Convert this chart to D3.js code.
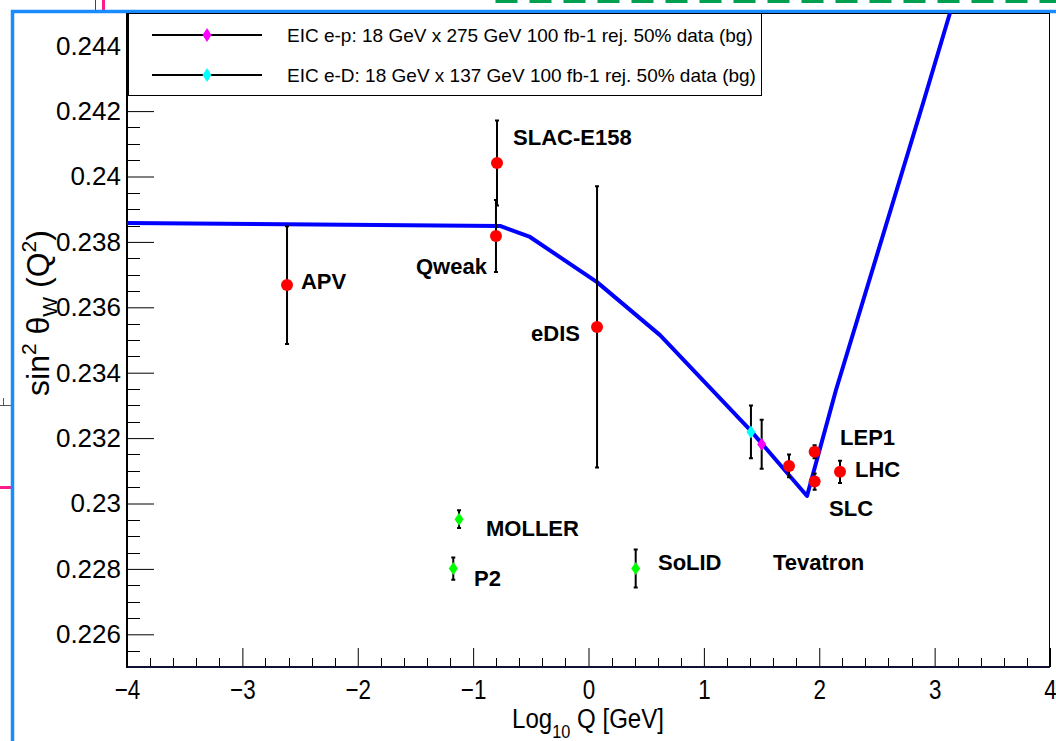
<!DOCTYPE html>
<html>
<head>
<meta charset="utf-8">
<script src="https://cdn.jsdelivr.net/npm/d3@7"></script>
<style>
  html, body { margin: 0; padding: 0; background: #fff; }
  svg { display: block; font-family: "Liberation Sans", Arial, Helvetica, sans-serif; }
</style>
</head>
<body>
<svg id="chart" width="1056" height="741"></svg>
<script>
// Running weak mixing angle: measurements, projections and EIC pseudo-data

// current measurements (red)
const measNames = ["APV", "SLAC-E158", "Qweak", "eDIS", "Tevatron", "LEP1", "SLC", "LHC"];
const measLogQ  = [-2.613, -0.793, -0.802, 0.074, 1.738, 1.960, 1.960, 2.180];
const measSin2  = [0.23668, 0.24041, 0.23818, 0.23540, 0.23115, 0.23158, 0.23067, 0.23097];
const measErr   = [0.0018, 0.0013, 0.0011, 0.0043, 0.00035, 0.00020, 0.00025, 0.00034];

// future low-energy projections (green)
const projNames = ["MOLLER", "P2", "SoLID"];
const projLogQ  = [-1.122, -1.172, 0.409];
const projSin2  = [0.22952, 0.22801, 0.22801];
const projErr   = [0.00027, 0.00034, 0.00058];

// EIC pseudo-data
const eicNames = ["EIC e-p: 18 GeV x 275 GeV 100 fb-1 rej. 50% data (bg)",
                  "EIC e-D: 18 GeV x 137 GeV 100 fb-1 rej. 50% data (bg)"];
const eicColors = ["#ff00ff", "#00ffff"];
const eicLogQ  = [1.501, 1.408];
const eicSin2  = [0.23181, 0.23219];
const eicErr   = [0.00075, 0.00081];

// theory curve
const curveLogQ = [-4, -0.767, -0.507, 0.074, 0.620, 1.400, 1.894, 2.145, 2.908, 3.133];
const curveSin2 = [0.23858, 0.23849, 0.23815, 0.23677, 0.23515, 0.23225, 0.23023, 0.23347, 0.24234, 0.24500];

// annotation text and anchors (data coordinates, left edge / baseline)
const labelText = ["APV", "SLAC-E158", "Qweak", "eDIS", "LEP1", "LHC", "SLC", "Tevatron", "MOLLER", "P2", "SoLID"];
const labelLogQ = [-2.492, -0.654, -1.495, -0.498, 2.180, 2.310, 2.085, 1.599, -0.888, -0.992, 0.602];
const labelSin2 = [0.23656, 0.24096, 0.23702, 0.23497, 0.23179, 0.23081, 0.22962, 0.22797, 0.22901, 0.22748, 0.22797];

// axes
const xTicks = [-4, -3, -2, -1, 0, 1, 2, 3, 4];
const yTicks = [0.226, 0.228, 0.23, 0.232, 0.234, 0.236, 0.238, 0.24, 0.242, 0.244];
const xDomain = [-4, 4];
const yDomain = [0.225, 0.245];

const svg = d3.select("#chart");
const W = 1056, H = 741;
const frame = { left: 127, right: 1050, top: 13, bottom: 667 };

const x = d3.scaleLinear().domain(xDomain).range([frame.left, frame.right]);
const y = d3.scaleLinear().domain(yDomain).range([frame.bottom, frame.top]);

// window decorations around the canvas
const deco = svg.append("g");
deco.append("path").attr("d", `M497,0V1.5H${W}`)
  .attr("fill", "none").attr("stroke", "#00a050").attr("stroke-width", 3)
  .attr("stroke-dasharray", "22,12");
deco.append("line").attr("x1", 95.5).attr("x2", 95.5).attr("y1", 0).attr("y2", 12)
  .attr("stroke", "#444").attr("stroke-width", 1);
deco.append("line").attr("x1", 103.5).attr("x2", 103.5).attr("y1", 0).attr("y2", 11)
  .attr("stroke", "#ff1a8c").attr("stroke-width", 3);
deco.append("path").attr("d", "M0,405.5H11M3.5,398V405")
  .attr("fill", "none").attr("stroke", "#555").attr("stroke-width", 1);
deco.append("line").attr("x1", 0).attr("x2", 11).attr("y1", 487.5).attr("y2", 487.5)
  .attr("stroke", "#ff1a8c").attr("stroke-width", 3);
deco.append("path").attr("d", `M12.5,${H}V11.5H${W}`)
  .attr("fill", "none").attr("stroke", "#1a8cff").attr("stroke-width", 3.5);

// clip region for the data
svg.append("clipPath").attr("id", "plotClip")
  .append("rect").attr("x", frame.left).attr("y", frame.top)
  .attr("width", frame.right - frame.left).attr("height", frame.bottom - frame.top);

// y axis
const yAxis = d3.axisLeft(y).tickValues(yTicks).tickSize(-27).tickPadding(0)
  .tickFormat(d => d3.format("")(+d.toFixed(3)));
const gy = svg.append("g").attr("transform", `translate(${frame.left},0)`).call(yAxis);
gy.select(".domain").remove();
gy.selectAll(".tick line").attr("stroke", "#000");
gy.selectAll(".tick text").attr("x", -6).attr("font-size", 26).attr("fill", "#000")
  .attr("font-family", "Liberation Sans, Arial, sans-serif");
const yMinor = d3.range(0.2255, 0.2450, 0.0005).filter(v => Math.abs(v / 0.002 - Math.round(v / 0.002)) > 0.01);
svg.append("g").selectAll("line").data(yMinor).join("line")
  .attr("x1", frame.left).attr("x2", frame.left + 13)
  .attr("y1", d => Math.round(y(d)) + 0.5).attr("y2", d => Math.round(y(d)) + 0.5)
  .attr("stroke", "#000").attr("stroke-width", 1);

// x axis
const xAxis = d3.axisBottom(x).tickValues(xTicks).tickSize(-19).tickFormat(d => d < 0 ? "\u2212" + Math.abs(d) : d);
const gx = svg.append("g").attr("transform", `translate(0,${frame.bottom})`).call(xAxis);
gx.select(".domain").remove();
gx.selectAll(".tick line").attr("stroke", "#000");
gx.selectAll(".tick text").attr("y", 0).attr("dy", 0)
  .attr("font-size", 28).attr("fill", "#000")
  .attr("transform", "translate(0,32) scale(0.8,1)");
const xMinor = d3.range(-3.8, 4, 0.2).filter(v => Math.abs(v - Math.round(v)) > 0.01);
svg.append("g").selectAll("line").data(xMinor).join("line")
  .attr("x1", d => Math.round(x(d)) + 0.5).attr("x2", d => Math.round(x(d)) + 0.5)
  .attr("y1", frame.bottom).attr("y2", frame.bottom - 9)
  .attr("stroke", "#000").attr("stroke-width", 1);

// frame
svg.append("rect").attr("x", frame.left + 0.5).attr("y", frame.top + 0.5)
  .attr("width", frame.right - frame.left - 1).attr("height", frame.bottom - frame.top - 1)
  .attr("fill", "none").attr("stroke", "#000").attr("stroke-width", 1);
svg.append("line").attr("x1", frame.left).attr("x2", frame.right)
  .attr("y1", frame.bottom).attr("y2", frame.bottom)
  .attr("stroke", "#111133").attr("stroke-width", 2);
svg.append("line").attr("x1", frame.left).attr("x2", frame.left)
  .attr("y1", frame.top).attr("y2", frame.bottom + 1)
  .attr("stroke", "#000").attr("stroke-width", 2);

// axis titles
const xt = svg.append("text").attr("transform", `translate(588,728) scale(0.86,1)`)
  .attr("text-anchor", "middle").attr("font-size", 28).attr("fill", "#000");
xt.append("tspan").text("Log");
xt.append("tspan").attr("font-size", 19).attr("dy", 10).text("10");
xt.append("tspan").attr("dy", -10).text(" Q [GeV]");

const yt = svg.append("text").attr("transform", `translate(49,313) rotate(-90)`)
  .attr("text-anchor", "middle").attr("font-size", 32).attr("fill", "#000");
yt.append("tspan").text("sin");
yt.append("tspan").attr("font-size", 21).attr("dy", -13).text("2");
yt.append("tspan").attr("dy", 13).text(" \u03b8");
yt.append("tspan").attr("font-size", 21).attr("dy", 8).text("W");
yt.append("tspan").attr("dy", -8).text(" (Q");
yt.append("tspan").attr("font-size", 21).attr("dy", -13).text("2");
yt.append("tspan").attr("dy", 13).text(")");

const plot = svg.append("g").attr("clip-path", "url(#plotClip)");

// theory curve
const curve = curveLogQ.map((q, i) => [q, curveSin2[i]]);
plot.append("path").datum(curve)
  .attr("d", d3.line().x(d => x(d[0])).y(d => y(d[1])))
  .attr("fill", "none").attr("stroke", "#0000ff").attr("stroke-width", 4)
  .attr("stroke-linejoin", "round");

function errorBars(g, qs, ss, es) {
  const data = qs.map((q, i) => ({ q, s: ss[i], e: es[i] }));
  g.append("g").selectAll("path").data(data).join("path")
    .attr("d", d => {
      const px = x(d.q), y0 = y(d.s - d.e), y1 = y(d.s + d.e);
      return `M${px},${y0}V${y1}M${px - 2},${y0}H${px + 2}M${px - 2},${y1}H${px + 2}`;
    })
    .attr("fill", "none").attr("stroke", "#000").attr("stroke-width", 2);
}

const diamond = (w, h) => `M0,${-h / 2}L${w / 2},0L0,${h / 2}L${-w / 2},0Z`;

// measurements
errorBars(plot, measLogQ, measSin2, measErr);
plot.append("g").selectAll("circle").data(measLogQ).join("circle")
  .attr("cx", d => x(d)).attr("cy", (d, i) => y(measSin2[i])).attr("r", 6)
  .attr("fill", "#ff0000");

// projections
errorBars(plot, projLogQ, projSin2, projErr);
plot.append("g").selectAll("path").data(projLogQ).join("path")
  .attr("transform", (d, i) => `translate(${x(d)},${y(projSin2[i])})`)
  .attr("d", diamond(9, 13)).attr("fill", "#00ff00");

// EIC
errorBars(plot, eicLogQ, eicSin2, eicErr);
plot.append("g").selectAll("path").data(eicLogQ).join("path")
  .attr("transform", (d, i) => `translate(${x(d)},${y(eicSin2[i])})`)
  .attr("d", diamond(9, 13)).attr("fill", (d, i) => eicColors[i]);

// annotations
svg.append("g").selectAll("text").data(labelText).join("text")
  .attr("x", (d, i) => x(labelLogQ[i])).attr("y", (d, i) => y(labelSin2[i]))
  .attr("font-size", 22).attr("font-weight", "bold").attr("fill", "#000")
  .text(d => d);

// legend
const lg = svg.append("g");
lg.append("rect").attr("x", 128.5).attr("y", 13.5).attr("width", 633).attr("height", 82)
  .attr("fill", "#fff").attr("stroke", "#000").attr("stroke-width", 1);
const rows = lg.selectAll("g.row").data(eicNames).join("g")
  .attr("transform", (d, i) => `translate(0,${35 + i * 40})`);
rows.append("line").attr("x1", 152).attr("x2", 262).attr("y1", 0).attr("y2", 0)
  .attr("stroke", "#000").attr("stroke-width", 2);
rows.append("path").attr("transform", "translate(207,0)").attr("d", diamond(9, 14))
  .attr("fill", (d, i) => eicColors[i]);
rows.append("text").attr("x", 287).attr("y", 7).attr("font-size", 19).attr("fill", "#000")
  .text(d => d);
</script>
</body>
</html>
